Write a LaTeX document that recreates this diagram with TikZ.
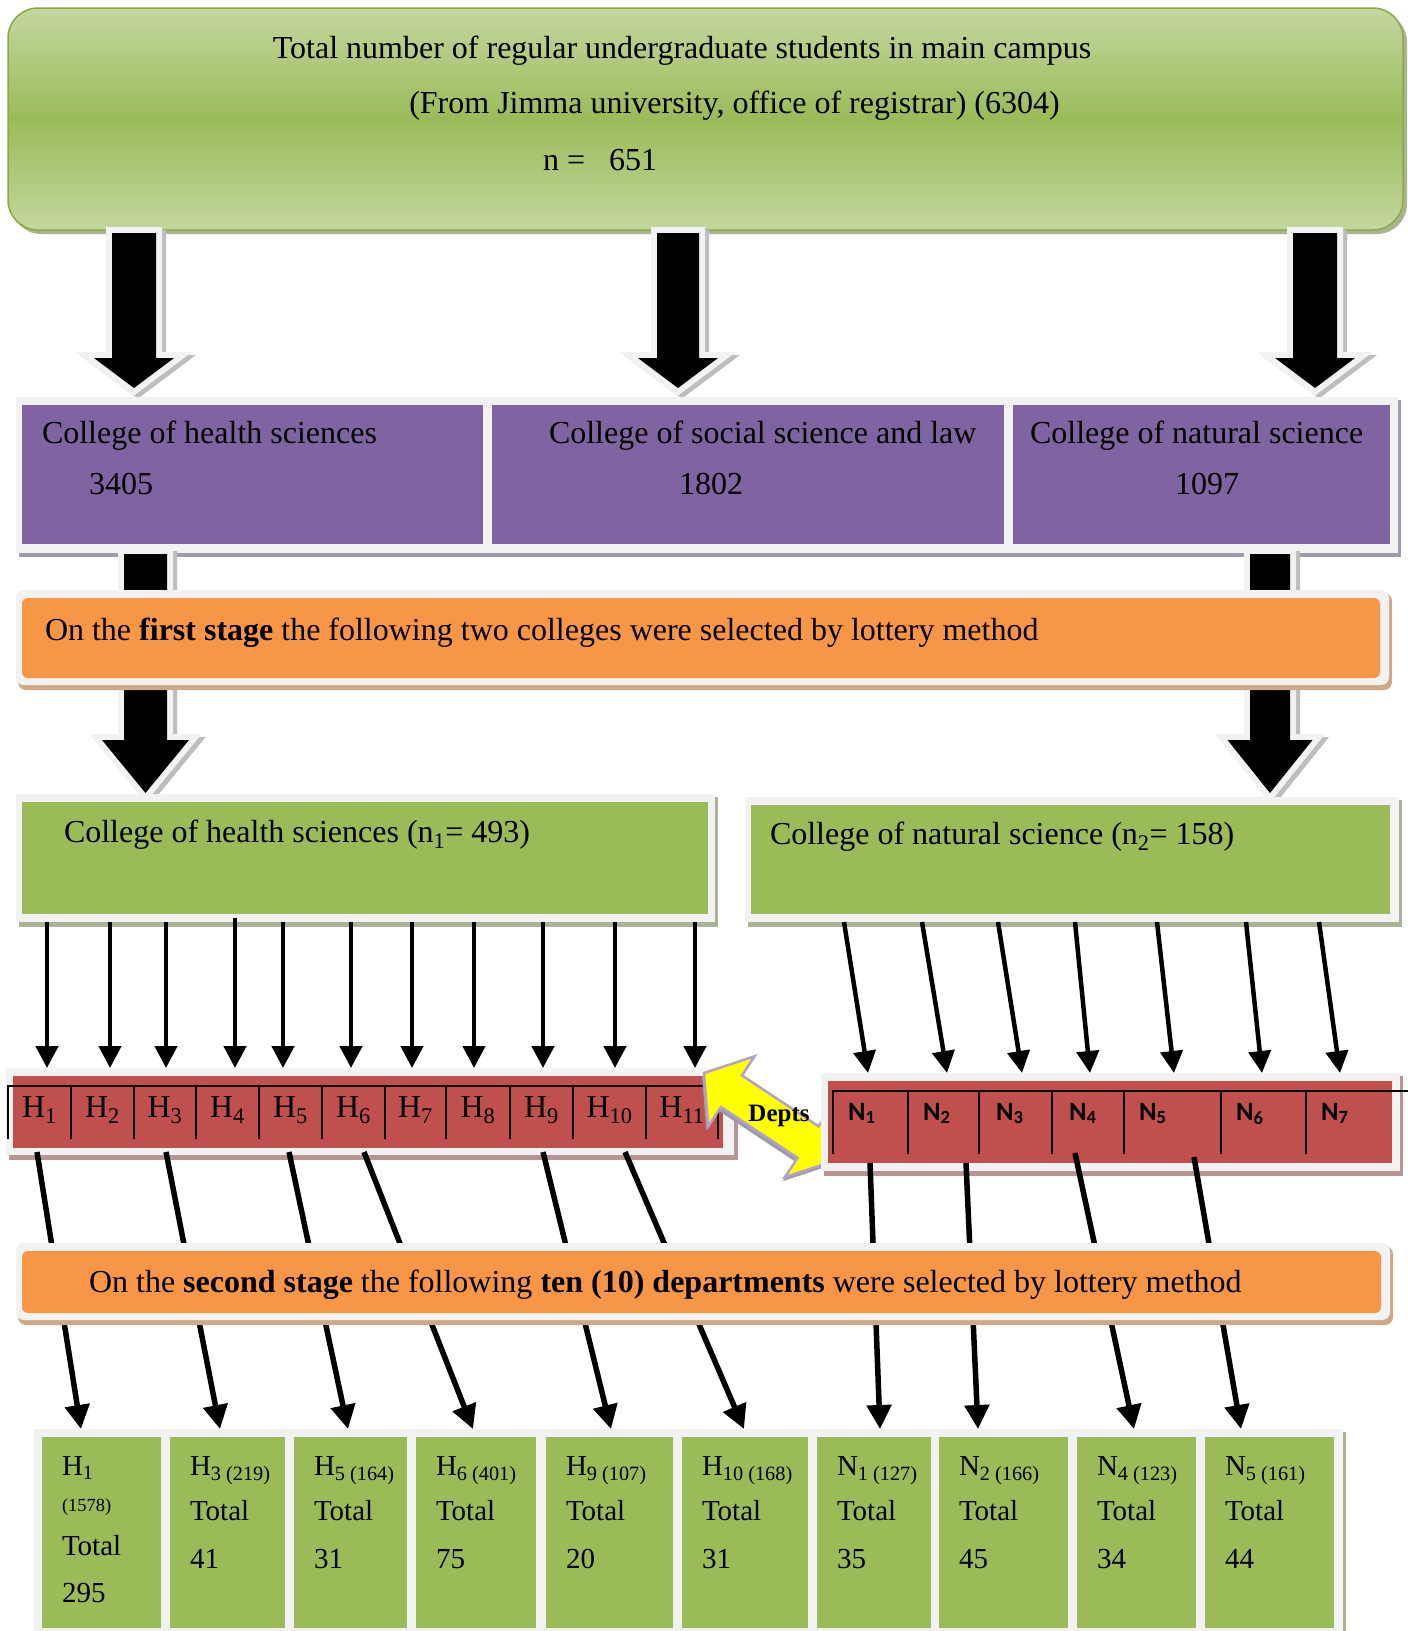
\documentclass[tikz,border=0pt]{standalone}
\usepackage{fontspec}
\setmainfont{Liberation Serif}
\newfontfamily\calfont{Carlito}
\usetikzlibrary{arrows.meta,calc}
\definecolor{ogreen}{HTML}{9BBB59}
\definecolor{lgreen}{HTML}{C4D79F}
\definecolor{dgreen}{HTML}{8AAA48}
\definecolor{gshadow}{HTML}{A9B592}
\definecolor{opurple}{HTML}{8064A2}
\definecolor{pshadow}{HTML}{A09CB0}
\definecolor{ored}{HTML}{C0504D}
\definecolor{rshadow}{HTML}{B89494}
\definecolor{oorange}{HTML}{F79646}
\definecolor{oshadow}{HTML}{CDA988}
\definecolor{lframe}{HTML}{F2F2F2}
\definecolor{ashadow}{HTML}{BDBDBD}
\definecolor{yel}{HTML}{FFFF00}
\definecolor{yedge}{HTML}{B3A2C7}
\definecolor{yshadow}{HTML}{9E98B4}
\newcommand\mainsz{\fontsize{32pt}{38pt}\selectfont}
\newcommand\botsz{\fontsize{29pt}{34pt}\selectfont}
\newcommand\smallsz{\fontsize{18.5pt}{22pt}\selectfont}
\newcommand\nsz{\calfont\bfseries\fontsize{26.5pt}{30pt}\selectfont}
\newcommand\dsz{\bfseries\fontsize{25pt}{30pt}\selectfont}
\newcommand\bapath[7]{\path[#1] (#2-#3,#4) -- (#2+#3,#4) -- (#2+#3,#5) -- (#2+#6,#5) -- (#2,#7) -- (#2-#6,#5) -- (#2-#3,#5) -- cycle;}
\newcommand\blockarr[6]{%
  \bapath{draw=ashadow,line width=12pt,line join=miter,xshift=4pt,yshift=-3pt}{#1}{#2}{#3}{#4}{#5}{#6}%
  \bapath{draw=lframe,line width=12pt,line join=miter}{#1}{#2}{#3}{#4}{#5}{#6}%
  \bapath{fill=black}{#1}{#2}{#3}{#4}{#5}{#6}}
\begin{document}
\begin{tikzpicture}[x=1pt,y=-1pt,
  rect/.style={inner sep=0pt, outer sep=0pt, anchor=north west, draw=none},
  lbl/.style={inner sep=0pt, outer sep=0pt, anchor=base west, font=\mainsz},
  blbl/.style={inner sep=0pt, outer sep=0pt, anchor=base west, font=\botsz},
  thinarr/.style={line width=4.5pt, -{Triangle[width=22pt,length=22pt]}},
  thickarr/.style={line width=5.5pt, -{Triangle[width=24pt,length=24pt]}},
  tbl/.style={line width=2.5pt, black, line cap=rect},
]
\useasboundingbox (0,0) rectangle (1408,1631);
\fill[white] (0,0) rectangle (1408,1631);

% ---------- top box
\fill[gshadow, rounded corners=30pt] (11,12) rectangle (1407,234);
\node[rect, rounded corners=30pt, minimum width=1395pt, minimum height=222pt,
      top color=lgreen, bottom color=lgreen, middle color=ogreen, draw=dgreen, line width=1.5pt] (top) at (8,8) {};
\node[lbl, anchor=base] (t1) at (682,58) {Total number of regular undergraduate students in main campus};
\node[lbl, anchor=base] (t2) at (734.5,113) {(From Jimma university, office of registrar) (6304)};
\node[lbl] (t3) at (543,170) {n =~~ 651};

% ---------- block arrows top -> colleges
\blockarr{134}{22}{233}{358}{40}{388}
\blockarr{678}{21}{233}{358}{40}{388}
\blockarr{1315}{22}{233}{358}{40}{388}

% ---------- purple colleges
\fill[pshadow] (19,400) rectangle (1401,557);
\node[rect, fill=lframe, minimum width=1382pt, minimum height=156pt] (pf) at (16,397) {};
\node[rect, fill=opurple, minimum width=461pt, minimum height=139pt] (p1) at (22,405) {};
\node[rect, fill=opurple, minimum width=512pt, minimum height=139pt] (p2) at (492,405) {};
\node[rect, fill=opurple, minimum width=377pt, minimum height=139pt] (p3) at (1013,405) {};
\node[lbl] (p1a) at (42,443) {College of health sciences};
\node[lbl] (p1b) at (89,494) {3405};
\node[lbl] (p2a) at (549,443) {College of social science and law};
\node[lbl] (p2b) at (679,494) {1802};
\node[lbl] (p3a) at (1030,443) {College of natural science};
\node[lbl] (p3b) at (1175,494) {1097};

% ---------- block arrows colleges -> selected colleges
\blockarr{145.5}{21.5}{554}{740}{43.5}{793}
\blockarr{1270}{20}{554}{740}{42.5}{793}

% ---------- first stage
\fill[oshadow, rounded corners=8pt] (18,593) rectangle (1392,690);
\node[rect, fill=lframe, rounded corners=8pt, minimum width=1373pt, minimum height=95pt] (o1f) at (16,590) {};
\node[rect, fill=oorange, rounded corners=6pt, minimum width=1358pt, minimum height=80pt] (o1) at (22,598) {};
\node[lbl] (o1t) at (45,640) {On the \textbf{first stage} the following two colleges were selected by lottery method};

% ---------- selected colleges
\fill[gshadow] (19,797) rectangle (718,927);
\node[rect, fill=lframe, minimum width=699pt, minimum height=128pt] (fL) at (16,794) {};
\node[rect, fill=ogreen, minimum width=686pt, minimum height=112pt] (gL) at (22,802) {};
\fill[gshadow] (748,800) rectangle (1402,927);
\node[rect, fill=lframe, minimum width=654pt, minimum height=125pt] (fR) at (745,797) {};
\node[rect, fill=ogreen, minimum width=639pt, minimum height=109pt] (gR) at (751,805) {};
\node[lbl] (gLt) at (64,842) {College of health sciences (n\textsubscript{1}= 493)};
\node[lbl] (gRt) at (770,844) {College of natural science (n\textsubscript{2}= 158)};

% ---------- H departments
\fill[rshadow] (9,1071) rectangle (738,1160);
\node[rect, fill=lframe, minimum width=728pt, minimum height=87pt] (fH) at (6,1068) {};
\node[rect, fill=ored, minimum width=710pt, minimum height=72pt] (hr) at (13,1076) {};
\draw[tbl] (8,1086) -- (718,1086);
\foreach \x in {8,71,134,196,259,322,385,446,510,573,646,718}
  \draw[tbl] (\x,1086) -- (\x,1138);
\foreach \x [count=\i] in {39.5,102.5,165,227.5,290.5,353.5,415.5,478,541.5,609.5,682}
  \node[lbl, anchor=base] (h\i) at (\x,1117) {H\textsubscript{\i}};

% ---------- Depts double arrow
\fill[yshadow, xshift=-2pt, yshift=-4pt] (704,1073) -- (754.7,1056.2) -- (742,1075.4) -- (818.6,1126.3) -- (831.3,1107.1) -- (835.6,1160.4) -- (784.9,1177.1) -- (797.6,1157.9) -- (721,1107) -- (708.3,1126.2) -- cycle;
\filldraw[fill=yel, draw=yedge, line width=2.5pt, line join=miter] (704,1073) -- (754.7,1056.2) -- (742,1075.4) -- (818.6,1126.3) -- (831.3,1107.1) -- (835.6,1160.4) -- (784.9,1177.1) -- (797.6,1157.9) -- (721,1107) -- (708.3,1126.2) -- cycle;
\node[inner sep=0pt, anchor=base, font=\dsz] (depts) at (779,1121) {Depts};

% ---------- N departments
\fill[rshadow] (824,1076) rectangle (1403,1176);
\node[rect, fill=lframe, minimum width=579pt, minimum height=98pt] (fN) at (821,1073) {};
\node[rect, fill=ored, minimum width=564pt, minimum height=82pt] (nr) at (828,1081) {};
\draw[tbl] (833,1091) -- (1410,1091);
\foreach \x in {833,908,979,1052,1124,1221,1306}
  \draw[tbl] (\x,1091) -- (\x,1153);
\foreach \x [count=\i] in {848,923,996,1069,1139,1236,1321}
  \node[inner sep=0pt, anchor=base west, font=\nsz] (n\i) at (\x,1120) {N\textsubscript{\i}};

% ---------- arrows college -> departments
\foreach \x in {47,110,166,283,351,412,474,543,615,695}
  \draw[thinarr] (fL.south -| \x,0) -- (fH.north -| \x,0);
\draw[thinarr] ($(fL.south -| 235,0)+(0,-4)$) -- (fH.north -| 235,0);
\foreach \a/\b in {844/868,922/947,998/1022,1075/1090,1157/1174,1246/1262,1319/1340}
  \draw[thinarr] (fR.south -| \a,0) -- (fN.north -| \b,0);

% ---------- bottom boxes frame (for arrow targets)
\fill[gshadow] (37,1432) rectangle (1346,1640);
\node[rect, fill=lframe, minimum width=1309pt, minimum height=211pt] (fB) at (34,1429) {};

% ---------- second stage arrows
\foreach \a/\b in {37/81,166/220,289/348,364/473,543/611,625/744}
  \draw[thickarr] ($(fH.south -| \a,0)+(0,-3)$) -- (fB.north -| \b,0);
\draw[thickarr] (nr.south -| 870,0) -- (fB.north -| 880,0);
\draw[thickarr] (nr.south -| 966,0) -- (fB.north -| 978,0);
\draw[thickarr] ($(nr.south -| 1075,0)+(0,-10)$) -- (fB.north -| 1134,0);
\draw[thickarr] ($(nr.south -| 1194,0)+(0,-6)$) -- (fB.north -| 1241,0);

% ---------- second stage
\fill[oshadow, rounded corners=8pt] (18,1246) rectangle (1393,1325);
\node[rect, fill=lframe, rounded corners=8pt, minimum width=1374pt, minimum height=77pt] (o2f) at (16,1243) {};
\node[rect, fill=oorange, rounded corners=6pt, minimum width=1359pt, minimum height=62pt] (o2) at (22,1251) {};
\node[lbl] (o2t) at (89,1292) {On the \textbf{second stage} the following \textbf{ten (10) departments} were selected by lottery method};

% ---------- bottom boxes
\node[rect, fill=ogreen, minimum width=119pt, minimum height=191pt] (b1) at (42,1437) {};
\node[rect, fill=ogreen, minimum width=115pt, minimum height=191pt] (b2) at (170,1437) {};
\node[rect, fill=ogreen, minimum width=113pt, minimum height=191pt] (b3) at (294,1437) {};
\node[rect, fill=ogreen, minimum width=120pt, minimum height=191pt] (b4) at (416,1437) {};
\node[rect, fill=ogreen, minimum width=127pt, minimum height=191pt] (b5) at (546,1437) {};
\node[rect, fill=ogreen, minimum width=126pt, minimum height=191pt] (b6) at (682,1437) {};
\node[rect, fill=ogreen, minimum width=114pt, minimum height=191pt] (b7) at (817,1437) {};
\node[rect, fill=ogreen, minimum width=129pt, minimum height=191pt] (b8) at (939,1437) {};
\node[rect, fill=ogreen, minimum width=119pt, minimum height=191pt] (b9) at (1077,1437) {};
\node[rect, fill=ogreen, minimum width=129pt, minimum height=191pt] (b10) at (1205,1437) {};

\node[blbl] (b1a) at (62,1475) {H\textsubscript{1}};
\node[blbl, font=\smallsz] (b1b) at (62,1511) {(1578)};
\node[blbl] (b1c) at (62,1555) {Total};
\node[blbl] (b1d) at (62,1602) {295};

\foreach \x/\nm/\tot [count=\i from 2] in {190/H\textsubscript{3 (219)}/41, 314/H\textsubscript{5 (164)}/31, 436/H\textsubscript{6 (401)}/75, 566/H\textsubscript{9 (107)}/20, 702/H\textsubscript{10 (168)}/31, 837/N\textsubscript{1 (127)}/35, 959/N\textsubscript{2 (166)}/45, 1097/N\textsubscript{4 (123)}/34, 1225/N\textsubscript{5 (161)}/44}{
  \node[blbl] (b\i a) at (\x,1475) {\nm};
  \node[blbl] (b\i c) at (\x,1520) {Total};
  \node[blbl] (b\i d) at (\x,1568) {\tot};
}
\end{tikzpicture}
\end{document}
